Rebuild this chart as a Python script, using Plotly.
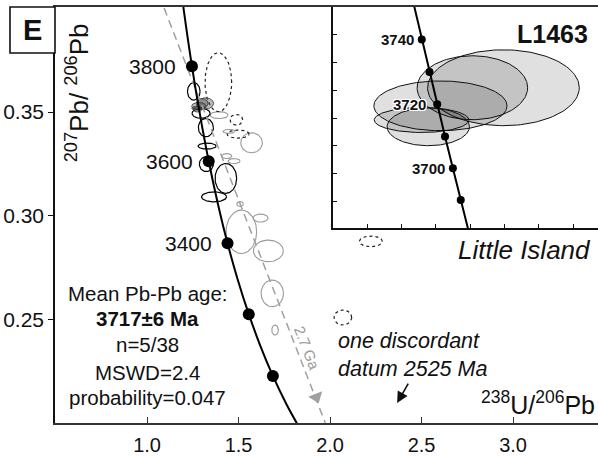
import numpy as np
import plotly.graph_objects as go

FONT = "Liberation Sans, Arial, sans-serif"

# ---- concordia (main panel) ----
conc_age = [4000, 3900, 3800, 3700, 3600, 3500, 3400, 3300, 3200, 3100, 3000, 2900, 2800]
conc_x = [1.1629, 1.2031, 1.2453, 1.2899, 1.3370, 1.3869, 1.4398, 1.4960, 1.5558, 1.6195, 1.6875, 1.7603, 1.8384]
conc_y = [0.4250, 0.3976, 0.3721, 0.3484, 0.3263, 0.3058, 0.2867, 0.2690, 0.2525, 0.2371, 0.2227, 0.2093, 0.1968]
dot_ages = [3800, 3600, 3400, 3200, 3000]
label_ages = [3800, 3600, 3400]

# ---- discordia reference line (2.7 Ga) ----
disc_x = [1.093, 1.974]
disc_y = [0.4002, 0.2000]
disc_arrow_x = [1.925]
disc_arrow_y = [0.2125]

# ---- concordant (grey-filled) analyses ----
cc_cx = [1.3193, 1.3012, 1.2826, 1.2716, 1.2755]
cc_cy = [0.35419, 0.35419, 0.35289, 0.35187, 0.35138]
cc_rx = [0.0442, 0.0322, 0.0388, 0.0276, 0.0240]
cc_ry = [0.00273, 0.00230, 0.00179, 0.00090, 0.00136]

# ---- other analyses: black outline ----
blk_cx = [1.2552, 1.2951, 1.3213, 1.3279, 1.3240, 1.4306, 1.3661]
blk_cy = [0.3600, 0.3494, 0.3425, 0.3336, 0.3249, 0.3180, 0.3091]
blk_rx = [0.0344, 0.0492, 0.0410, 0.0492, 0.0383, 0.0590, 0.0683]
blk_ry = [0.0042, 0.0024, 0.0044, 0.00145, 0.0036, 0.0072, 0.0024]

# ---- dotted outline ----
dtd_cx = [1.3896, 1.4880, 1.4973, 2.2230, 2.0699]
dtd_cy = [0.3644, 0.3463, 0.3394, 0.2876, 0.2509]
dtd_rx = [0.0727, 0.0344, 0.0601, 0.0628, 0.0481]
dtd_ry = [0.0142, 0.00256, 0.00193, 0.00256, 0.00362]

# ---- grey outline ----
gry_cx = [1.3934, 1.4481, 1.5710, 1.4355, 1.4754, 1.5082, 1.6202, 1.5153, 1.6628, 1.6842, 1.6995]
gry_cy = [0.34855, 0.34069, 0.33519, 0.32877, 0.32636, 0.30562, 0.29887, 0.29226, 0.28304, 0.26254, 0.24484]
gry_rx = [0.0492, 0.0328, 0.0590, 0.0273, 0.0328, 0.0180, 0.0410, 0.0836, 0.0820, 0.0612, 0.0180]
gry_ry = [0.00169, 0.00096, 0.00482, 0.00121, 0.00121, 0.00121, 0.00193, 0.01047, 0.00521, 0.00642, 0.00241]

# ---- inset concordia ----
ins_age = [3760, 3750, 3740, 3730, 3720, 3710, 3700, 3690, 3680]
ins_x = [1.2628, 1.26725, 1.27171, 1.27621, 1.28072, 1.28526, 1.28984, 1.29443, 1.29906]
ins_y = [0.36241, 0.36004, 0.35767, 0.35533, 0.35300, 0.35068, 0.34839, 0.34612, 0.34385]
ins_dot_ages = [3740, 3730, 3720, 3710, 3700, 3690]
ins_label_ages = [3740, 3720, 3700]

stats_lines = ["Mean Pb-Pb age:", "<b>3717±6 Ma</b>", "n=5/38", "MSWD=2.4", "probability=0.047"]
stats_y = [0.26269, 0.25063, 0.23809, 0.22458, 0.21220]

x_ticks = [1.0, 1.5, 2.0, 2.5, 3.0]
x_ticktext = ["1.0", "1.5", "2.0", "2.5", "3.0"]
y_ticks = [0.25, 0.30, 0.35]
y_ticktext = ["0.25", "0.30", "0.35"]


def ellipse_path(cxs, cys, rxs, rys, n=80):
    t = np.linspace(0, 2 * np.pi, n)
    xs, ys = [], []
    for cx, cy, rx, ry in zip(cxs, cys, rxs, rys):
        xs += list(cx + rx * np.cos(t)) + [None]
        ys += list(cy + ry * np.sin(t)) + [None]
    return xs, ys


fig = go.Figure()

# main-panel ellipses
for cxs, cys, rxs, rys, col, dash, w in [
    (gry_cx, gry_cy, gry_rx, gry_ry, "#9a9a9a", "solid", 1.1),
    (dtd_cx, dtd_cy, dtd_rx, dtd_ry, "#222222", "dot", 1.2),
    (blk_cx, blk_cy, blk_rx, blk_ry, "#000000", "solid", 1.2),
]:
    ex, ey = ellipse_path(cxs, cys, rxs, rys)
    fig.add_trace(go.Scatter(x=ex, y=ey, mode="lines", line=dict(color=col, width=w, dash=dash),
                             hoverinfo="skip", showlegend=False, xaxis="x", yaxis="y"))

for cx, cy, rx, ry in zip(cc_cx, cc_cy, cc_rx, cc_ry):
    ex, ey = ellipse_path([cx], [cy], [rx], [ry])
    fig.add_trace(go.Scatter(x=ex[:-1], y=ey[:-1], mode="lines", fill="toself",
                             fillcolor="rgba(60,60,60,0.35)", line=dict(color="#333", width=0.8),
                             hoverinfo="skip", showlegend=False, xaxis="x", yaxis="y"))

# discordia dashed line + arrow
fig.add_trace(go.Scatter(x=disc_x, y=disc_y, mode="lines",
                         line=dict(color="#a0a0a0", width=1.5, dash="8px,5px"),
                         hoverinfo="skip", showlegend=False))
fig.add_trace(go.Scatter(x=disc_arrow_x, y=disc_arrow_y, mode="markers",
                         marker=dict(symbol="triangle-down", size=13, color="#a0a0a0", angle=-21),
                         hoverinfo="skip", showlegend=False))

# concordia
fig.add_trace(go.Scatter(x=conc_x, y=conc_y, mode="lines", line=dict(color="#000", width=2, shape="spline"),
                         hoverinfo="skip", showlegend=False))
dx = [conc_x[conc_age.index(a)] for a in dot_ages]
dy = [conc_y[conc_age.index(a)] for a in dot_ages]
fig.add_trace(go.Scatter(x=dx, y=dy, mode="markers", marker=dict(color="#000", size=12),
                         hoverinfo="skip", showlegend=False))

# ---- inset ----
for cx, cy, rx, ry in zip(cc_cx, cc_cy, cc_rx, cc_ry):
    ex, ey = ellipse_path([cx], [cy], [rx], [ry], n=160)
    fig.add_trace(go.Scatter(x=ex[:-1], y=ey[:-1], mode="lines", fill="toself",
                             fillcolor="rgba(0,0,0,0.12)", line=dict(color="#111", width=1),
                             hoverinfo="skip", showlegend=False, xaxis="x2", yaxis="y2"))
fig.add_trace(go.Scatter(x=ins_x, y=ins_y, mode="lines", line=dict(color="#000", width=2),
                         hoverinfo="skip", showlegend=False, xaxis="x2", yaxis="y2"))
ix = [ins_x[ins_age.index(a)] for a in ins_dot_ages]
iy = [ins_y[ins_age.index(a)] for a in ins_dot_ages]
fig.add_trace(go.Scatter(x=ix, y=iy, mode="markers", marker=dict(color="#000", size=8),
                         hoverinfo="skip", showlegend=False, xaxis="x2", yaxis="y2"))

ann = []
for a in label_ages:
    i = conc_age.index(a)
    ann.append(dict(x=conc_x[i], y=conc_y[i], xref="x", yref="y", text=str(a), showarrow=False,
                    xanchor="right", yanchor="middle", xshift=-14, font=dict(size=21, color="#111")))
halo = "1px 1px 0 #fff, -1px -1px 0 #fff, 1px -1px 0 #fff, -1px 1px 0 #fff, 0 1px 0 #fff, 1px 0 0 #fff, 0 -1px 0 #fff, -1px 0 0 #fff"
for a in ins_label_ages:
    i = ins_age.index(a)
    ann.append(dict(x=ins_x[i], y=ins_y[i], xref="x2", yref="y2", text="<b>%d</b>" % a, showarrow=False,
                    xanchor="right", yanchor="middle", xshift=-9 if a == 3720 else -6,
                    font=dict(size=15, color="#111", shadow=halo if a == 3720 else "none")))

for t, yy in zip(stats_lines, stats_y):
    ann.append(dict(x=1.005, y=yy, xref="x", yref="y", text=t, showarrow=False,
                    xanchor="center", yanchor="middle", font=dict(size=20.5, color="#111")))

ann += [
    dict(x=2.0328, y=0.23302, xref="x", yref="y", text="<i>one discordant<br>datum 2525 Ma</i>",
         showarrow=False, xanchor="left", yanchor="middle", align="left", font=dict(size=21.5, color="#111")),
    dict(x=2.3661, y=0.20962, ax=2.4317, ay=0.21975, xref="x", yref="y", axref="x", ayref="y",
         text="", showarrow=True, arrowhead=2, arrowsize=1.4, arrowwidth=1.6, arrowcolor="#111"),
    dict(x=1.872, y=0.2362, xref="x", yref="y", text="2.7 Ga", textangle=68.8, showarrow=False,
         xanchor="center", yanchor="middle", font=dict(size=15, color="#9a9a9a")),
    dict(x=3.0601, y=0.28343, xref="x", yref="y", text="<i>Little Island</i>", showarrow=False,
         xanchor="center", yanchor="middle", font=dict(size=26, color="#111")),
    dict(x=3.2158, y=0.38763, xref="x", yref="y", text="<b>L1463</b>", showarrow=False,
         xanchor="center", yanchor="middle", font=dict(size=25, color="#111")),
    dict(x=3.458, y=0.2096, xref="x", yref="y", text="<sup>238</sup>U/<sup>206</sup>Pb", showarrow=False,
         xanchor="right", yanchor="middle", font=dict(size=25, color="#111")),
    dict(x=0.0405, y=0.795, xref="paper", yref="paper", text="<sup>207</sup>Pb/ <sup>206</sup>Pb",
         textangle=-90, showarrow=False, xanchor="center", yanchor="middle", font=dict(size=26, color="#111")),
    dict(x=-0.0414, y=0.9447, xref="paper", yref="paper", text="<b>E</b>", showarrow=False,
         xanchor="center", yanchor="middle", font=dict(size=29, color="#111")),
]

fig.update_layout(
    width=598, height=457,
    margin=dict(l=55, r=0, t=7, b=34),
    paper_bgcolor="white", plot_bgcolor="white",
    font=dict(family=FONT, color="#111"),
    showlegend=False,
    xaxis=dict(domain=[0, 1], range=[0.497, 3.464], tickvals=x_ticks, ticktext=x_ticktext,
               ticks="inside", ticklen=6, tickwidth=1.3, tickcolor="#333",
               showline=True, linecolor="#333", linewidth=2, mirror=True, automargin=False,
               showgrid=False, zeroline=False, tickfont=dict(size=20, color="#111"),
               ticklabelstandoff=3),
    yaxis=dict(domain=[0, 1], range=[0.2, 0.4007], tickvals=y_ticks, ticktext=y_ticktext,
               ticks="outside", ticklen=5, tickwidth=1.3, tickcolor="#111", automargin=False,
               showline=True, linecolor="#111", linewidth=1.6, mirror=False,
               showgrid=False, zeroline=False, tickfont=dict(size=21, color="#111")),
    xaxis2=dict(domain=[0.512, 1.0], range=[1.22, 1.3744], anchor="y2",
                tickvals=[1.24, 1.26, 1.28, 1.30, 1.32, 1.34, 1.36], ticks="inside", ticklen=4,
                tickcolor="#111", showticklabels=False, showline=True, linecolor="#111", linewidth=1.6,
                showgrid=False, zeroline=False),
    yaxis2=dict(domain=[0.4688, 1.0], range=[0.3441, 0.3600], anchor="x2",
                tickvals=[0.346, 0.348, 0.350, 0.352, 0.354, 0.356, 0.358], ticks="inside", ticklen=4,
                tickcolor="#111", showticklabels=False, showline=True, linecolor="#111", linewidth=1.6,
                showgrid=False, zeroline=False),
    shapes=[dict(type="rect", xref="paper", yref="paper", x0=-0.0829, x1=0, y0=0.8894, y1=1.0,
                 line=dict(color="#111", width=1.6), fillcolor="white", layer="above")],
    annotations=ann,
)

fig.write_html("out.html", config={"displayModeBar": False},
               post_script="document.body.style.margin='0';document.body.style.padding='0';")
